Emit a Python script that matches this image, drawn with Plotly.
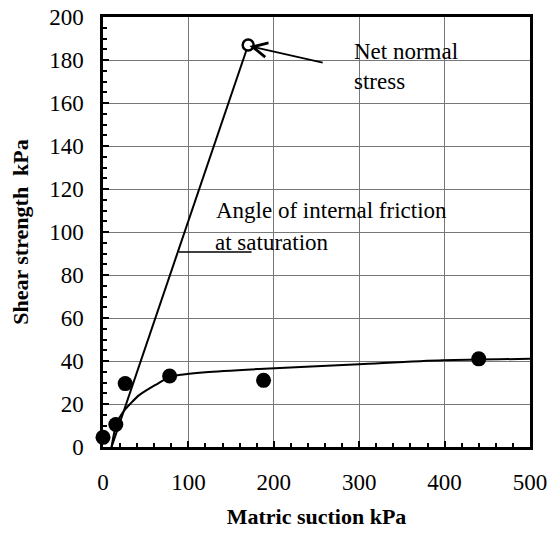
import plotly.graph_objects as go

# Measured data (filled circles)
suction = [0, 15, 26, 78, 188, 440]
strength = [4.5, 10.5, 29.5, 33, 31, 41]

# Fitted curve through the data
curve_x = [10, 16, 25, 33, 42, 62, 78, 89, 120, 183, 300, 398, 500]
curve_y = [0, 11, 17, 20.5, 24, 29, 32.5, 33.5, 34.8, 36.3, 38.5, 40.3, 41]

# Line for angle of internal friction at saturation
phi_x = [10, 170]
phi_y = [0, 187]

# Net normal stress point (open circle)
net_x = [170]
net_y = [187]

x_ticks = [0, 100, 200, 300, 400, 500]
y_ticks = [0, 20, 40, 60, 80, 100, 120, 140, 160, 180, 200]

font_family = "Liberation Serif, Times New Roman, serif"

fig = go.Figure()

fig.add_trace(go.Scatter(x=phi_x, y=phi_y, mode="lines",
                         line=dict(color="black", width=2), showlegend=False))
fig.add_trace(go.Scatter(x=curve_x, y=curve_y, mode="lines",
                         line=dict(color="black", width=2, shape="spline", smoothing=0.8),
                         showlegend=False))
fig.add_trace(go.Scatter(x=suction, y=strength, mode="markers",
                         marker=dict(color="black", size=15), cliponaxis=False,
                         showlegend=False))
fig.add_trace(go.Scatter(x=net_x, y=net_y, mode="markers",
                         marker=dict(color="white", size=11, line=dict(color="black", width=2.5)),
                         cliponaxis=False, showlegend=False))

# Leader line for "Angle of internal friction"
fig.add_shape(type="line", x0=89, x1=174, y0=90.7, y1=90.7, xref="x", yref="y",
              line=dict(color="black", width=1.5))

# Arrow to net normal stress
fig.add_annotation(x=171.5, y=186.5, ax=259, ay=178.6, xref="x", yref="y",
                   axref="x", ayref="y", text="", showarrow=True,
                   arrowhead=5, arrowsize=1.6, arrowwidth=1.8, arrowcolor="black")

txt_font = dict(family=font_family, size=23, color="black")
fig.add_annotation(x=292, y=184, text="Net normal", showarrow=False,
                   xanchor="left", yanchor="middle", font=txt_font)
fig.add_annotation(x=292, y=170, text="stress", showarrow=False,
                   xanchor="left", yanchor="middle", font=txt_font)
fig.add_annotation(x=130, y=110, text="Angle of internal friction", showarrow=False,
                   xanchor="left", yanchor="middle", font=txt_font)
fig.add_annotation(x=129, y=95, text="at saturation", showarrow=False,
                   xanchor="left", yanchor="middle", font=txt_font)

axis_common = dict(
    showline=True, linecolor="black", linewidth=2.5, mirror=True,
    showgrid=True, gridcolor="#777777", gridwidth=1, zeroline=False,
    ticks="inside", ticklen=6, tickwidth=1.5, tickcolor="black",
    tickfont=dict(family=font_family, size=23, color="black"),
    automargin=False, ticklabeloverflow="allow",
)

fig.update_xaxes(range=[0, 500], tickvals=x_ticks, ticktext=[str(v) for v in x_ticks],
                 minor=dict(dtick=20, ticks="inside", ticklen=4, tickcolor="black", showgrid=False),
                 title=dict(text="<b>Matric suction kPa</b>", standoff=32,
                            font=dict(family=font_family, size=22, color="black")),
                 ticklabelstandoff=13, **axis_common)
fig.update_yaxes(range=[0, 200], tickvals=y_ticks, ticktext=[str(v) for v in y_ticks],
                 minor=dict(dtick=5, ticks="inside", ticklen=4, tickcolor="black", showgrid=False),
                 title=dict(text="<b>Shear strength  kPa</b>", standoff=15,
                            font=dict(family=font_family, size=22, color="black")),
                 ticklabelstandoff=12, **axis_common)

# page body has an 8px margin, so the figure is shifted and shrunk to compensate
fig.update_layout(width=539, height=521, margin=dict(l=95, r=17, t=9, b=82),
                  plot_bgcolor="white", paper_bgcolor="white",
                  font=dict(family=font_family, size=22, color="black"))

fig.write_html("out.html")
